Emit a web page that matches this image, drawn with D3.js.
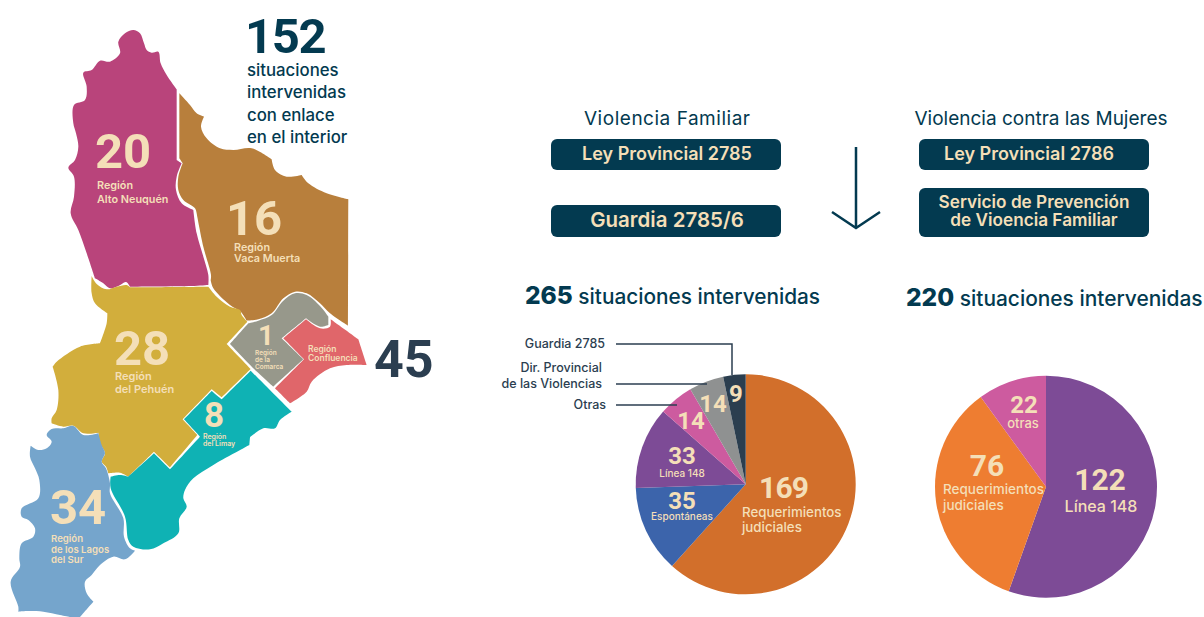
<!DOCTYPE html>
<html>
<head>
<meta charset="utf-8">
<script src="https://cdn.jsdelivr.net/npm/d3@7"></script>
<style>
  html, body { margin: 0; padding: 0; background: #fff; overflow: hidden; }
  svg { display: block; }
  text { font-family: "Inter", "Noto Sans", sans-serif; }
</style>
</head>
<body>
<div id="chart"></div>
<script>
// Pie data
const familiarCategories = ["Requerimientos judiciales", "Espontáneas", "Línea 148", "Otras", "Dir. Provincial de las Violencias", "Guardia 2785"];
const familiarValues = [169, 35, 33, 14, 14, 9];
const familiarTotal = 265;
const mujeresCategories = ["Línea 148", "Requerimientos judiciales", "otras"];
const mujeresValues = [122, 76, 22];
const mujeresTotal = 220;

// Map data
const regionNames = ["Alto Neuquén", "Vaca Muerta", "del Pehuén", "de la Comarca", "Confluencia", "del Limay", "de los Lagos del Sur"];
const regionCounts = [20, 16, 28, 1, 45, 8, 34];
const interiorTotal = 152;

// A third element marks a sharp corner, the rest get smoothed.
const altoNeuquen = [[400,90],[420,100],[432,130],[440,150],[455,158],[475,155],[482,190],[500,225],[530,268,1],[530,480,1],[545,490,1],[530,530],[528,570],[545,610],[580,630,1],[590,700],[610,770],[625,825],[625,855,1],[575,858],[390,860,1],[378,846],[355,858],[330,865],[310,850],[285,835,1],[260,760],[235,690],[212,640],[222,590],[222,530],[205,503],[225,480],[235,440],[228,400],[220,370],[222,315],[255,300],[260,260],[250,218],[275,210],[300,182],[330,185],[360,160],[355,125],[375,100]];
const vacaMuerta = [[538,280,1],[570,315],[590,340],[612,350,1],[603,380],[620,415],[660,445],[700,450],[755,445],[815,478,1],[825,510],[860,530],[905,525,1],[925,550],[980,580],[1045,598,1],[1044,977,1],[990,940],[960,910],[920,880],[885,875],[850,895],[815,940],[775,958],[740,962,1],[722,935],[690,915],[640,865],[632,840,1],[633,825],[610,740],[590,640,1],[585,625],[550,600],[535,570],[535,530],[548,490,1],[538,475,1]];
const pehuen = [[275,828,1],[290,852],[320,868],[350,860],[380,855],[390,862,1],[625,860,1],[650,890],[690,920],[720,930],[725,945],[742,965,1],[680,1032,1],[752,1107,1],[665,1192,1],[635,1168,1],[548,1258,1],[592,1305,1],[510,1402,1],[462,1355,1],[385,1430,1],[360,1418],[325,1420,1],[318,1400],[305,1385],[315,1360],[300,1330],[295,1298,1],[250,1300],[220,1277],[190,1280],[155,1270,1],[155,1255],[170,1230],[175,1170],[158,1100,1],[170,1085],[240,1040],[300,1030,1],[320,970],[322,940,1],[285,910],[275,880]];
const comarca = [[690,1032,1],[745,970,1],[775,962],[815,945],[850,902],[885,880],[920,885],[960,918],[985,950,1],[985,975,1],[960,980],[918,955,1],[845,1015,1],[910,1078,1],[820,1160,1],[760,1105,1]];
const confluencia = [[918,958,1],[960,985],[990,980],[992,958,1],[1075,1018,1],[1100,1095,1],[1040,1095],[990,1105],[935,1145],[920,1175],[870,1210,1],[825,1165,1],[912,1078,1],[850,1015,1]];
const limay = [[752,1112,1],[875,1235,1],[840,1260],[825,1285],[790,1285],[750,1312,1],[748,1335,1],[640,1395],[580,1435],[555,1470],[550,1495],[560,1520],[538,1555],[535,1600],[490,1630],[450,1648],[400,1640],[385,1620],[375,1550],[332,1465],[332,1430,1],[360,1425],[385,1430,1],[462,1360,1],[510,1408,1],[600,1310,1],[552,1258,1],[635,1173,1],[665,1198,1]];
const lagosSur = [[140,1305],[155,1287],[190,1285],[220,1278],[250,1305],[295,1300,1],[305,1335],[315,1360],[305,1385],[318,1405],[330,1450],[330,1480],[370,1555],[372,1610],[390,1645],[405,1652,1],[375,1678],[340,1670],[300,1695],[275,1725],[255,1745],[260,1780],[280,1805,1],[240,1851,1],[210,1851,1],[180,1845],[130,1835],[80,1833],[55,1835,1],[55,1820],[32,1745],[60,1700],[58,1675],[65,1630],[100,1610],[105,1585],[85,1560],[65,1550],[65,1525],[115,1495],[118,1440],[105,1405],[90,1370],[92,1337,1],[115,1350],[140,1345],[155,1325]];

const navy = "#033a50";
const slate = "#2b3e50";
const cream = "#f4dfb8";

const svg = d3.select("#chart").append("svg")
    .attr("width", 1204)
    .attr("height", 617);

// Map
const mapX = d3.scaleLinear().domain([0, 1320]).range([0, 440]);
const mapY = d3.scaleLinear().domain([0, 1851]).range([0, 617]);
const outline = d3.line()
    .x(d => mapX(d[0]))
    .y(d => mapY(d[1]))
    .curve(d3.curveCatmullRomClosed.alpha(0.5));

// doubling a point makes the spline turn sharply there
const withCorners = pts => pts.flatMap(p => p[2] ? [p, p] : [p]);

const regions = [
    { points: altoNeuquen, fill: "#b9447b" },
    { points: vacaMuerta, fill: "#b87f3c" },
    { points: pehuen, fill: "#d2ae3c" },
    { points: comarca, fill: "#97988b" },
    { points: confluencia, fill: "#e0666a" },
    { points: limay, fill: "#0fb2b4" },
    { points: lagosSur, fill: "#75a5cc" }
];

svg.append("g")
    .selectAll("path")
    .data(regions)
    .join("path")
    .attr("d", d => outline(withCorners(d.points)))
    .attr("fill", d => d.fill);

// Text helper, numbers get the narrower face
function label(str, x, y, size, weight, color, anchor) {
    const t = svg.append("text")
        .attr("x", x)
        .attr("y", y)
        .attr("font-size", size)
        .attr("font-weight", weight)
        .attr("fill", color)
        .attr("text-anchor", anchor || "start")
        .text(str);
    if (typeof str === "number") t.style("font-family", "Roboto, sans-serif");
    return t;
}

// Map labels
label(interiorTotal, 245, 53, 49, 700, navy).attr("letter-spacing", -1.4);
["situaciones", "intervenidas", "con enlace", "en el interior"].forEach((s, i) => {
    label(s, 247, [76, 98, 121, 143][i], 16.8, 500, navy);
});

const regionLabels = [
    { x: 95, y: 168, size: 49, lx: 97, ly: [189, 203], ls: 10.8 },
    { x: 226, y: 235, size: 49, lx: 234, ly: [251, 262], ls: 10.8 },
    { x: 114, y: 365, size: 49, lx: 115, ly: [380, 393], ls: 11 },
    { x: 258, y: 345, size: 28, lx: 255, ly: [355, 362, 369], ls: 6.5 },
    null,
    { x: 204, y: 427, size: 35, lx: 203, ly: [439, 446], ls: 7 },
    { x: 50, y: 524, size: 49, lx: 51, ly: [542, 553, 563], ls: 9.6 }
];
const regionLines = [
    ["Región", "Alto Neuquén"],
    ["Región", "Vaca Muerta"],
    ["Región", "del Pehuén"],
    ["Región", "de la", "Comarca"],
    null,
    ["Región", "del Limay"],
    ["Región", "de los Lagos", "del Sur"]
];
regionLabels.forEach((r, i) => {
    if (!r) return;
    label(regionCounts[i], r.x, r.y, r.size, 700, cream);
    regionLines[i].forEach((s, j) => label(s, r.lx, r.ly[j], r.ls, 600, cream));
});
label("Región", 308, 352, 8.5, 600, cream);
label(regionNames[4], 308, 361, 8.5, 600, cream);
label(regionCounts[4], 374, 377, 52, 700, slate);

// Headers and boxes
label("Violencia Familiar", 667, 125, 19, 400, navy, "middle").attr("textLength", 166);
label("Violencia contra las Mujeres", 1041, 125, 19, 400, navy, "middle");

const boxes = [
    { x: 551, y: 139, h: 31 },
    { x: 551, y: 205, h: 32 },
    { x: 919, y: 139, h: 31 },
    { x: 919, y: 188, h: 49 }
];
svg.append("g").selectAll("rect").data(boxes).join("rect")
    .attr("x", d => d.x)
    .attr("y", d => d.y)
    .attr("width", 230)
    .attr("height", d => d.h)
    .attr("rx", 6)
    .attr("fill", navy);

label("Ley Provincial 2785", 667, 160, 18, 600, cream, "middle");
label("Guardia 2785/6", 667, 227, 20.5, 600, cream, "middle");
label("Ley Provincial 2786", 1029, 160, 18, 600, cream, "middle");
label("Servicio de Prevención", 1034, 208, 17.2, 600, cream, "middle");
label("de Vioencia Familiar", 1034, 226, 17.2, 600, cream, "middle");

// Arrow
svg.append("path")
    .attr("d", d3.line()([[856, 147], [856, 228]]) + d3.line()([[832, 212], [856, 228], [880, 212]]))
    .attr("fill", "none")
    .attr("stroke", navy)
    .attr("stroke-width", 2.5);

// Pie titles
function pieTitle(total, x, y, size) {
    const t = label("", x, y, size, 500, navy);
    t.append("tspan").attr("font-size", 24.5).attr("font-weight", 800).text(total);
    t.append("tspan").text(" situaciones intervenidas");
}
pieTitle(familiarTotal, 525, 304, 20.8);
pieTitle(mujeresTotal, 906, 306, 20.9);

// Pies
function drawPie(cx, cy, radius, categories, values, colors) {
    const color = d3.scaleOrdinal().domain(categories).range(colors);
    const arcs = d3.pie().sort(null)(values);
    const arc = d3.arc().innerRadius(0).outerRadius(radius);
    svg.append("g")
        .attr("transform", `translate(${cx},${cy})`)
        .selectAll("path")
        .data(arcs)
        .join("path")
        .attr("d", arc)
        .attr("fill", (d, i) => color(categories[i]));
}
drawPie(745.7, 484.3, 110, familiarCategories, familiarValues,
    ["#d26f2b", "#3c64ab", "#7d4b96", "#cd5b9f", "#8f9191", "#2b3e4f"]);
drawPie(1046, 486.7, 111, mujeresCategories, mujeresValues,
    ["#7d4b96", "#ee7d31", "#cd5b9f"]);

// Leader lines
const leaders = [
    [[616, 344], [732, 344], [732, 375]],
    [[616, 384], [707, 384]],
    [[616, 405], [677, 405]]
];
svg.append("g").selectAll("path").data(leaders).join("path")
    .attr("d", d3.line())
    .attr("fill", "none")
    .attr("stroke", slate)
    .attr("stroke-width", 1.5);

label(familiarCategories[5], 605, 348, 12.5, 500, slate, "end");
label("Dir. Provincial", 602, 372, 12.5, 500, slate, "end");
label("de las Violencias", 602, 388, 12.5, 500, slate, "end");
label(familiarCategories[3], 606, 409, 12.5, 500, slate, "end");

// Pie labels, familiar
label(familiarValues[0], 759, 498, 30, 700, cream).attr("letter-spacing", -0.8);
label("Requerimientos", 742, 517, 13.3, 500, cream);
label("judiciales", 742, 532, 13.3, 500, cream);
label(familiarValues[1], 682, 509, 24, 700, cream, "middle");
label(familiarCategories[1], 682, 520, 10, 500, cream, "middle");
label(familiarValues[2], 682, 464, 24, 700, cream, "middle");
label(familiarCategories[2], 682, 477, 10, 500, cream, "middle");
label(familiarValues[3], 691, 429, 24, 700, cream, "middle");
label(familiarValues[4], 713, 412, 24, 700, cream, "middle");
label(familiarValues[5], 736, 402, 24, 700, cream, "middle");

// Pie labels, mujeres
label(mujeresValues[0], 1100, 490, 30, 700, cream, "middle");
label(mujeresCategories[0], 1101, 512, 16, 500, cream, "middle");
label(mujeresValues[1], 987, 476, 30, 700, cream, "middle");
label("Requerimientos", 943, 494, 13.5, 500, cream);
label("judiciales", 943, 510, 13.5, 500, cream);
label(mujeresValues[2], 1024, 413, 24, 700, cream, "middle");
label(mujeresCategories[2], 1023, 428, 13, 500, cream, "middle");
</script>
</body>
</html>
